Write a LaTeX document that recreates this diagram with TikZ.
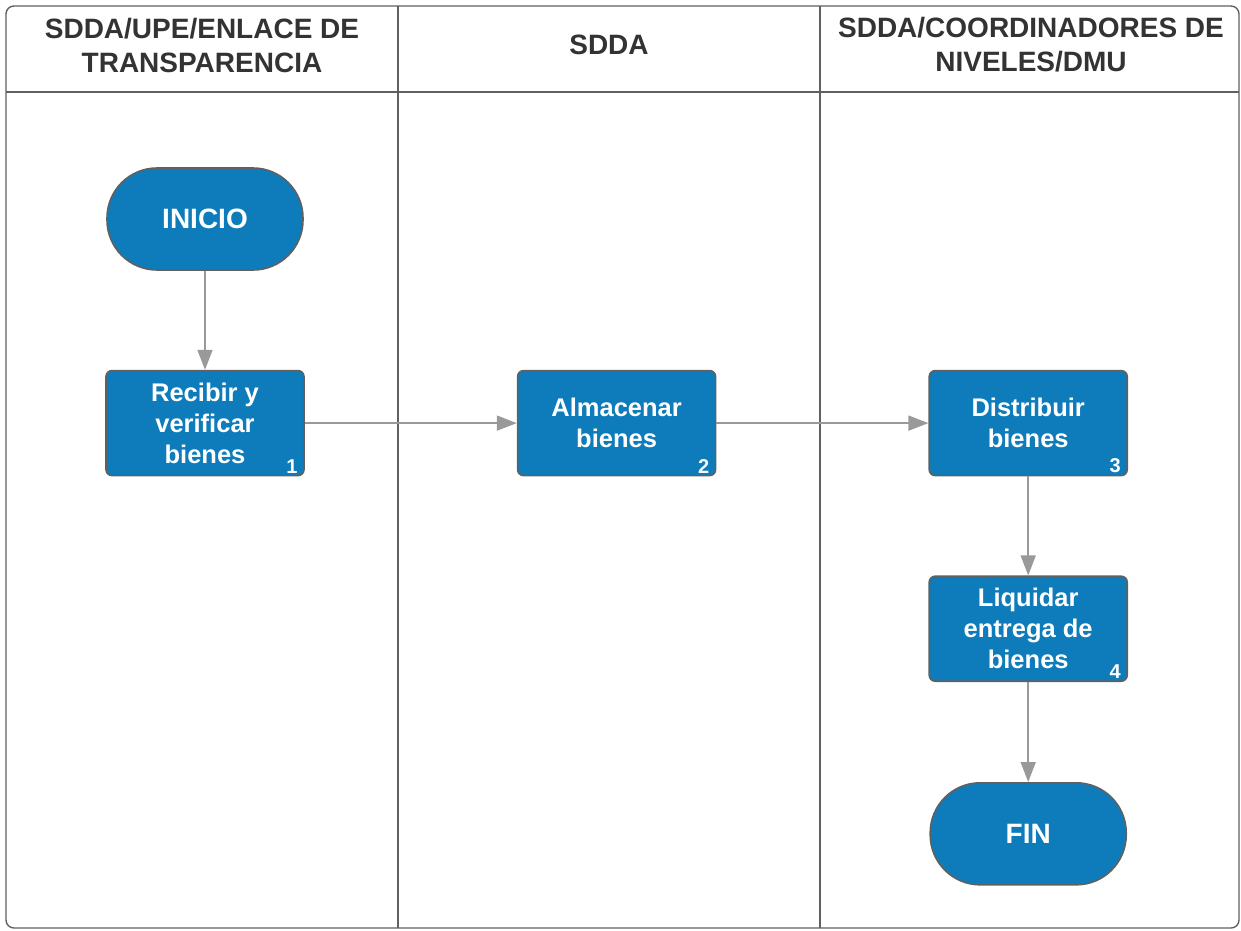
\documentclass[tikz,border=0pt]{standalone}
\usepackage{fontspec}
\setmainfont{Liberation Sans}
\usetikzlibrary{positioning,arrows.meta}
\definecolor{stepblue}{RGB}{14,124,186}
\definecolor{edgegray}{RGB}{96,96,96}
\definecolor{arrowgray}{RGB}{153,153,153}
\definecolor{headtext}{RGB}{51,51,51}
\tikzset{
  proc/.style={draw=edgegray,line width=1.6pt,fill=stepblue,text=white,
    rounded corners=6pt,minimum width=198pt,minimum height=105pt,inner sep=0pt,
    font=\fontsize{25.5}{31}\selectfont\bfseries},
  term/.style={proc,rounded corners=50pt,minimum width=196pt,minimum height=102pt,
    font=\fontsize{28}{32}\selectfont\bfseries},
  num/.style={anchor=south east,text=white,inner sep=0pt,xshift=-7pt,yshift=3pt,
    font=\fontsize{20}{22}\selectfont\bfseries},
  head/.style={text=headtext,font=\fontsize{28}{34}\selectfont\bfseries},
  lane/.style={draw=edgegray,line width=1.4pt},
  flow/.style={->,draw=arrowgray,line width=1.6pt}
}
\begin{document}
\begin{tikzpicture}[x=1pt,y=-1pt,>={Triangle[width=15pt,length=20pt]},align=center]
  \useasboundingbox (0,0) rectangle (1241,930);
  % swimlanes
  \draw[lane,rounded corners=8pt] (6,6) rectangle (1239,928);
  \draw[lane] (6,92) -- (1239,92);
  \draw[lane] (398,6) -- (398,928);
  \draw[lane] (820,6) -- (820,928);
  \node[head] (head1) at (202,45) {SDDA/UPE/ENLACE DE\\TRANSPARENCIA};
  \node[head] (head2) at (609,45) {SDDA};
  \node[head] (head3) at (1031,45) {SDDA/COORDINADORES DE\\NIVELES/DMU};

  % steps
  \node[term] (inicio) at (205,219) {INICIO};
  \node[proc,below=99pt of inicio] (recibir) {Recibir y\\verificar\\bienes};
  \node[proc,right=212pt of recibir] (almacenar) {Almacenar\\bienes};
  \node[proc,right=212pt of almacenar] (distribuir) {Distribuir\\bienes};
  \node[proc,below=99pt of distribuir] (liquidar) {Liquidar\\entrega de\\bienes};
  \node[term,below=100pt of liquidar] (fin) {FIN};
  \node[num] (num1) at (recibir.south east) {1};
  \node[num] (num2) at (almacenar.south east) {2};
  \node[num] (num3) at (distribuir.south east) {3};
  \node[num] (num4) at (liquidar.south east) {4};

  \draw[flow] (inicio) -- (recibir);
  \draw[flow] (recibir) -- (almacenar);
  \draw[flow] (almacenar) -- (distribuir);
  \draw[flow] (distribuir) -- (liquidar);
  \draw[flow] (liquidar) -- (fin);
\end{tikzpicture}
\end{document}
